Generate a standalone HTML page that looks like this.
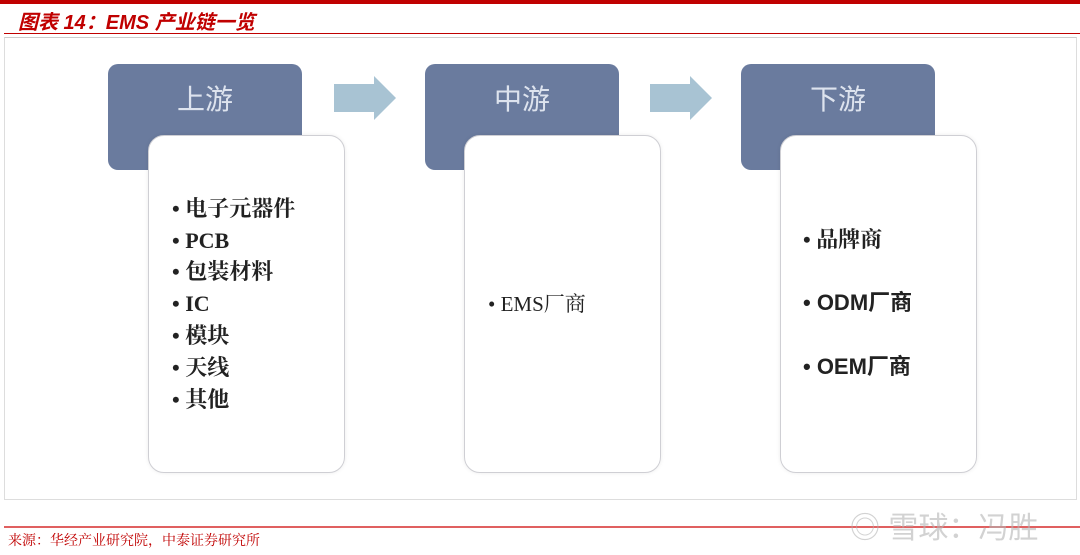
<!DOCTYPE html>
<html><head><meta charset="utf-8"><style>
body{margin:0;width:1080px;height:555px;background:#fff;position:relative;overflow:hidden;font-family:"Liberation Sans","Noto Sans CJK SC",sans-serif}
.a{position:absolute}
.hd{position:absolute;width:194px;height:106px;background:#6a7b9e;border-radius:10px;color:#dde3ee;font-size:28px;text-align:center;line-height:72px;font-family:"Liberation Sans","Noto Sans CJK SC",sans-serif}
.cd{position:absolute;width:195px;height:336px;background:#fff;border:1.5px solid #cfcfd4;border-radius:16px;box-shadow:0 0 4px rgba(0,0,0,.08)}
.it{position:absolute;font-family:"Liberation Serif","Noto Serif CJK SC",serif;font-size:22px;line-height:30px;height:30px;font-weight:bold;color:#222;white-space:nowrap}
</style></head><body>
<div class="a" style="left:0;top:0;width:1080px;height:4px;background:#c00000"></div>
<div class="a" style="left:18px;top:6px;font-size:20px;font-style:italic;font-weight:bold;color:#c00000;font-family:'Liberation Sans','Noto Sans CJK SC',sans-serif">图表 14：EMS 产业链一览</div>
<div class="a" style="left:4px;top:33px;width:1076px;height:1px;background:#c00000"></div>
<div class="a" style="left:4px;top:37px;width:1071px;height:461px;border:1px solid #ddd;border-top:1px solid #ccc"></div>

<div class="hd" style="left:108px;top:64px">上游</div>
<div class="hd" style="left:425px;top:64px">中游</div>
<div class="hd" style="left:741px;top:64px">下游</div>

<svg class="a" style="left:330px;top:74px" width="70" height="50"><polygon points="4,10 44,10 44,2 66,24 44,46 44,38 4,38" fill="#a8c3d3"/></svg>
<svg class="a" style="left:646px;top:74px" width="70" height="50"><polygon points="4,10 44,10 44,2 66,24 44,46 44,38 4,38" fill="#a8c3d3"/></svg>

<div class="cd" style="left:148px;top:135px"></div>
<div class="cd" style="left:464px;top:135px"></div>
<div class="cd" style="left:780px;top:135px"></div>

<div class="it" style="left:172px;top:194px">• 电子元器件</div>
<div class="it" style="left:172px;top:226px">• PCB</div>
<div class="it" style="left:172px;top:257px">• 包装材料</div>
<div class="it" style="left:172px;top:289px">• IC</div>
<div class="it" style="left:172px;top:321px">• 模块</div>
<div class="it" style="left:172px;top:353px">• 天线</div>
<div class="it" style="left:172px;top:385px">• 其他</div>

<div class="it" style="left:488px;top:289px;font-size:21px;font-weight:normal">• EMS厂商</div>

<div class="it" style="left:803px;top:225px">• 品牌商</div>
<div class="it" style="left:803px;top:288px;font-family:'Liberation Sans','Noto Sans CJK SC',sans-serif">• ODM厂商</div>
<div class="it" style="left:803px;top:352px;font-family:'Liberation Sans','Noto Sans CJK SC',sans-serif">• OEM厂商</div>

<div class="a" style="left:4px;top:526px;width:1076px;height:2px;background:#e06060"></div>
<div class="a" style="left:8px;top:530px;font-size:14px;color:#c00000;font-family:'Liberation Serif','Noto Serif CJK SC',serif">来源：华经产业研究院，中泰证券研究所</div>
<div class="a" style="left:850px;top:503px;font-size:30px;color:rgba(180,180,180,.6);font-family:'Liberation Sans','Noto Sans CJK SC',sans-serif">◎ 雪球：冯胜</div>
</body></html>
